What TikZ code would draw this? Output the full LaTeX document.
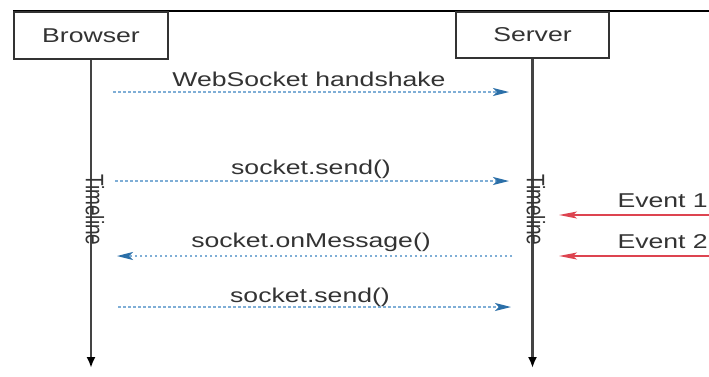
\documentclass[tikz,border=0pt]{standalone}
\usepackage{fontspec}
\usepackage{graphicx}
\setmainfont{Liberation Sans}
\usetikzlibrary{arrows.meta}

\definecolor{ink}{HTML}{333333}
\definecolor{lifeink}{HTML}{444444}
\definecolor{msgline}{HTML}{7FAED6}
\definecolor{msghead}{HTML}{2B6FA8}
\definecolor{evred}{HTML}{DD4450}

% wide sans text
\newcommand{\widetxt}[1]{\scalebox{1.33}[1]{#1}}

\tikzset{
  actor/.style={draw=ink, line width=1.6pt, fill=white, inner sep=0pt,
    text=ink, font=\fontsize{20}{24}\selectfont},
  lifeline/.style={draw=lifeink, line width=2.5pt,
    -{Latex[length=11pt,width=9pt,color=black]}},
  msg/.style={draw=msgline, line width=1.6pt, dash pattern=on 2.5pt off 2.5pt,
    -{Stealth[length=16pt,width=8pt,inset=4pt,color=msghead]}},
  event/.style={draw=evred, line width=1.5pt,
    -{Stealth[length=18pt,width=7pt,inset=4pt,color=evred]}},
  lbl/.style={anchor=base, inner sep=0pt, text=ink,
    font=\fontsize{20}{24}\selectfont},
  timelbl/.style={inner sep=0pt, text=ink, font=\fontsize{19}{22}\selectfont},
}

\begin{document}
\begin{tikzpicture}[x=1pt,y=-1pt]
  \useasboundingbox (0,0) rectangle (709,376);
  \fill[white] (0,0) rectangle (709,376);

  % header rule
  \coordinate (ruleL) at (13,11);
  \coordinate (ruleR) at (709,11);
  \draw[line width=2pt, black] (ruleL) -- (ruleR);

  % participants
  \node[actor, minimum width=154pt, minimum height=47pt] (browser) at (91,35.5) {\widetxt{Browser}};
  \node[actor, minimum width=153pt, minimum height=46pt] (server) at (532.5,35) {\widetxt{Server}};

  % lifelines
  \coordinate (bEnd) at (91,368);
  \coordinate (sEnd) at (532.5,368);
  \draw[lifeline] (browser.south) -- (bEnd);
  \draw[lifeline] (server.south) -- (sEnd);

  \node[timelbl] (bTime) at (95,210) {\scalebox{1.33}[1]{\rotatebox{-90}{Timeline}}};
  \node[timelbl] (sTime) at (536,210) {\scalebox{1.33}[1]{\rotatebox{-90}{Timeline}}};

  % messages
  \coordinate (m1a) at (113,92);  \coordinate (m1b) at (509,92);
  \coordinate (m2a) at (115,181); \coordinate (m2b) at (509,181);
  \coordinate (m3a) at (512,256); \coordinate (m3b) at (117,256);
  \coordinate (m4a) at (118,307); \coordinate (m4b) at (511,307);

  \draw[msg] (m1a) -- (m1b);
  \draw[msg] (m2a) -- (m2b);
  \draw[msg] (m3a) -- (m3b);
  \draw[msg] (m4a) -- (m4b);

  \node[lbl] (l1) at (309,86)  {\widetxt{WebSocket handshake}};
  \node[lbl] (l2) at (311,174) {\widetxt{socket.send()}};
  \node[lbl] (l3) at (311,247) {\widetxt{socket.onMessage()}};
  \node[lbl] (l4) at (310,302) {\widetxt{socket.send()}};

  % external events
  \coordinate (e1a) at (709,215); \coordinate (e1b) at (559,215);
  \coordinate (e2a) at (709,256); \coordinate (e2b) at (559,256);
  \draw[event] (e1a) -- (e1b);
  \draw[event] (e2a) -- (e2b);

  \node[lbl, anchor=base east] (ev1) at (708,207) {\widetxt{Event 1}};
  \node[lbl, anchor=base east] (ev2) at (708,248) {\widetxt{Event 2}};
\end{tikzpicture}
\end{document}
